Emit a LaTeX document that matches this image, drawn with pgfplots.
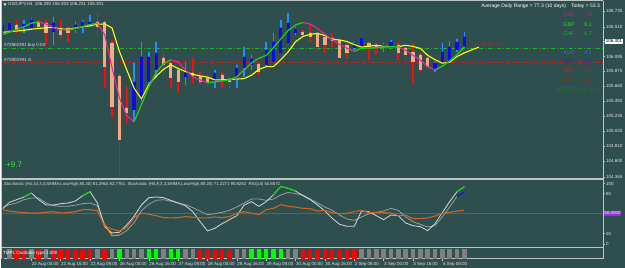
\documentclass[border=0pt]{standalone}
\usepackage{fontspec}
\setmainfont{Liberation Sans}
\usepackage{pgfplots}
\pgfplotsset{compat=1.18}
\usepackage{pgfplotstable}
\definecolor{bg}{RGB}{47,79,79}
\definecolor{bullw}{RGB}{30,144,255}
\definecolor{bullb}{RGB}{12,12,235}
\definecolor{bearw}{RGB}{255,10,10}
\definecolor{bearb}{RGB}{245,170,130}
\definecolor{maY}{RGB}{255,255,0}
\definecolor{maG}{RGB}{0,225,0}
\definecolor{maM}{RGB}{230,40,160}
\definecolor{txt}{RGB}{228,228,228}
\definecolor{frm}{RGB}{190,196,196}
\definecolor{stA}{RGB}{215,215,215}
\definecolor{stB}{RGB}{150,158,165}
\definecolor{rsi}{RGB}{205,100,35}
\definecolor{purp}{RGB}{150,45,225}
\definecolor{strR}{RGB}{255,0,0}
\definecolor{strL}{RGB}{0,255,0}
\definecolor{strG}{RGB}{128,128,128}
\definecolor{lvG}{RGB}{40,175,40}
\definecolor{lvR}{RGB}{205,30,30}
\newcommand\tf{\fontsize{4.5}{5}\selectfont}
\pgfplotsset{candle/.style={only marks, mark=*, mark size=0.1pt, mark options={draw=none, fill=none}}}

\pgfplotstableread{
i hi lo bt bb
0 106.579 106.351 106.536 106.365
1 106.579 106.422 106.564 106.465
3 106.607 106.422 106.550 106.493
4 106.635 106.465 106.607 106.493
7 106.650 106.251 106.564 106.436
10 106.579 106.422 106.536 106.465
11 106.607 106.422 106.579 106.493
12 106.678 106.507 106.579 106.536
18 105.995 105.156 105.725 105.327
19 106.294 105.455 106.081 105.469
20 106.152 105.711 106.081 105.725
21 106.294 105.782 106.138 105.896
25 106.010 105.682 105.853 105.796
29 105.896 105.640 105.853 105.725
32 105.967 105.640 105.924 105.754
33 106.223 105.796 106.081 105.924
34 106.109 105.896 106.052 105.967
36 106.294 105.938 106.180 105.967
37 106.422 106.010 106.294 106.010
38 106.607 106.138 106.493 106.138
39 106.707 106.280 106.564 106.280
40 106.507 106.394 106.479 106.422
48 106.294 106.180 106.280 106.209
49 106.365 106.223 106.351 106.223
52 106.280 106.152 106.251 106.223
53 106.322 106.223 106.294 106.237
59 106.010 105.867 105.995 105.896
60 106.280 106.010 106.152 106.010
61 106.294 106.010 106.223 106.010
62 106.337 106.152 106.294 106.180
63 106.436 106.223 106.365 106.223
}\bull

\pgfplotstableread{
i hi lo bt bb
2 106.607 106.422 106.536 106.465
5 106.607 106.465 106.579 106.507
6 106.607 106.251 106.564 106.422
8 106.607 106.351 106.493 106.394
9 106.507 106.294 106.493 106.422
13 106.721 106.365 106.579 106.507
14 106.593 105.640 106.579 105.938
15 106.322 105.227 106.280 105.369
16 105.839 104.388 105.810 104.900
17 105.654 105.142 105.355 105.284
22 106.152 105.796 106.066 105.967
23 106.010 105.640 105.995 105.782
24 105.938 105.569 105.896 105.725
26 106.066 105.711 105.853 105.810
27 105.867 105.697 105.810 105.725
28 105.825 105.682 105.782 105.711
30 105.867 105.640 105.825 105.754
31 105.782 105.640 105.768 105.725
35 105.995 105.825 105.981 105.867
41 106.465 106.365 106.436 106.394
42 106.564 106.294 106.422 106.365
43 106.422 106.152 106.422 106.223
44 106.365 106.138 106.365 106.251
45 106.422 106.223 106.351 106.308
46 106.351 106.066 106.322 106.066
47 106.251 106.066 106.251 106.138
50 106.280 106.038 106.280 106.223
51 106.280 106.109 106.251 106.223
54 106.294 106.038 106.251 106.138
55 106.251 106.010 106.209 106.109
56 106.280 105.711 106.152 106.010
57 106.138 105.867 106.109 105.896
58 106.081 105.896 106.066 105.938
}\bear

\pgfplotstableread{
i ma
0 106.432
1 106.439
2 106.449
3 106.460
4 106.475
5 106.486
6 106.496
7 106.499
8 106.479
9 106.473
10 106.493
11 106.507
12 106.524
13 106.546
14 106.549
15 106.493
16 106.159
17 105.896
18 105.635
19 105.483
20 105.685
21 105.806
22 105.903
23 105.967
24 105.916
25 105.873
26 105.832
27 105.810
28 105.793
29 105.753
30 105.753
31 105.759
32 105.765
33 105.771
34 105.820
35 105.901
36 105.941
37 105.943
38 106.042
39 106.153
40 106.297
41 106.372
42 106.401
43 106.416
44 106.385
45 106.332
46 106.322
47 106.300
48 106.257
49 106.220
50 106.233
51 106.246
52 106.231
53 106.227
54 106.227
55 106.246
56 106.230
57 106.202
58 106.103
59 106.041
60 105.991
61 106.005
62 106.085
63 106.138
64 106.180
65 106.220
}\yel

\pgfplotstableread{
i fa gr
0 106.394 106.394
1 106.433 106.433
2 106.469 106.469
3 106.510 106.510
4 106.561 106.561
5 106.580 106.580
6 106.549 nan
7 106.500 nan
8 106.465 nan
9 106.465 106.465
10 106.483 106.483
11 106.513 106.513
12 106.542 106.542
13 106.560 106.560
14 106.394 nan
15 105.924 nan
16 105.497 nan
17 105.241 nan
18 105.156 105.156
19 105.398 105.398
20 105.654 105.654
21 105.860 105.860
22 105.981 105.981
23 106.038 106.038
24 106.010 nan
25 105.896 nan
26 105.796 nan
27 105.753 nan
28 105.711 105.711
29 105.725 105.725
30 105.739 105.739
31 105.753 105.753
32 105.796 105.796
33 105.896 105.896
34 105.995 105.995
35 106.062 106.062
36 106.102 106.102
37 106.214 106.214
38 106.337 106.337
39 106.458 106.458
40 106.536 106.536
41 106.571 106.571
42 106.550 nan
43 106.486 nan
44 106.404 nan
45 106.328 nan
46 106.258 nan
47 106.204 nan
48 106.159 106.159
49 106.204 106.204
50 106.206 106.206
51 106.214 106.214
52 106.221 106.221
53 106.226 106.226
54 106.227 106.227
55 106.173 nan
56 106.102 nan
57 106.038 nan
58 105.941 nan
59 105.896 105.896
60 105.946 105.946
61 106.024 106.024
62 106.109 106.109
63 106.226 106.226
}\fast

\pgfplotstableread{
i s1 s2 r g1 b2 o2
0 56 59 56 nan nan nan
1 67 63.5 53.8 nan nan nan
2 71 66 52.6 nan nan nan
3 75 71 51.5 75 nan nan
4 81 73.5 51 81 nan nan
5 71 73.5 51 nan nan nan
6 63 66 52 nan nan nan
7 63 62 53 nan nan nan
8 65 61 51 nan nan nan
9 66 61 51.5 nan nan nan
10 69 62.8 53 nan nan nan
11 77 65 56 77 nan nan
12 83 66 56 83 nan nan
13 66 62 54.5 nan nan nan
14 30 33.5 31 nan nan 33.5
15 21 17 26.8 nan nan 17
16 22 17.8 23.8 nan nan 17.8
17 33 24.5 29 nan nan nan
18 46 36.5 44 nan nan nan
19 63 54.5 50.8 nan nan nan
20 74 64 49.3 nan nan nan
21 75 70 47 nan nan nan
22 74 71 44 nan nan nan
23 70 68.8 43.6 nan nan nan
24 66 66 44 nan nan nan
25 62 63.5 45.5 nan nan nan
26 53 59 44.8 nan nan nan
27 38 53.8 43.6 nan nan nan
28 24 48.5 43.6 nan nan nan
29 28 50 45 nan nan nan
30 35 52 44 nan nan nan
31 41 55 45.5 nan nan nan
32 47 60 50.8 nan nan nan
33 63 66 53 nan nan nan
34 68 72 50.8 nan nan nan
35 61 72 48.5 nan nan nan
36 68 70 56 nan nan nan
37 78.5 72 58 78.5 nan nan
38 91 78 63.5 91 nan nan
39 88 82 61 88 nan nan
40 84 80 59.8 84 nan nan
41 77 78 58 nan nan nan
42 71 72 57.5 nan nan nan
43 63 66 53.8 nan nan nan
44 54 60 55 nan nan nan
45 43 55 51.5 nan nan nan
46 34 48 50 nan nan nan
47 31 42 50.3 nan nan nan
48 31 40 53 nan nan nan
49 54 45 55 nan nan nan
50 53 50 51.5 nan nan nan
51 47 52 52 nan nan nan
52 41 54 51.5 nan nan nan
53 48 58 51 nan nan nan
54 47 55 47 nan nan nan
55 36 45 47.8 nan nan nan
56 32 38 42.5 nan nan nan
57 30.5 34 42.5 nan nan nan
58 24.5 30 43.6 nan nan nan
59 35 32 46.3 nan nan nan
60 51.5 45 50.3 nan nan nan
61 68 60 52 nan nan nan
62 83 76 53.8 83 76 nan
63 90.5 82 55 90.5 82 nan
}\stoch

\begin{document}
\begin{tikzpicture}[x=1pt,y=1pt]
\fill[bg] (0,0) rectangle (625,268);

% ---------------- main price panel
\begin{axis}[
  at={(2pt,90pt)}, anchor=south west, scale only axis,
  width=601pt, height=176pt,
  xmin=0.136, xmax=81.9, ymin=104.359, ymax=106.863,
  axis x line=none, axis y line*=right,
  axis line style={frm, line width=0.8pt},
  ytick={104.365,104.600,104.810,105.025,105.235,105.450,105.660,105.875,106.085,106.510,106.735},
  yticklabels={104.365,104.600,104.810,105.025,105.235,105.450,105.660,105.875,106.085,106.510,106.735},
  extra y ticks={106.301}, extra y tick labels={106.301},
  extra y tick style={yticklabel style={fill=white, text=black, inner sep=0.6pt}},
  yticklabel style={font=\tf, text=txt, inner sep=1pt},
  tick style={frm, line width=0.5pt}, major tick length=2pt, tick align=outside,
  unbounded coords=jump, clip=true,
]
\addplot[lvG, line width=0.7pt, dash pattern=on 4pt off 2pt on 1pt off 2pt] coordinates {(0.136,106.204) (81.9,106.204)};
\addplot[lvR, line width=0.7pt, dash pattern=on 4pt off 2pt on 1pt off 2pt] coordinates {(0.136,106.005) (81.9,106.005)};
% wicks (from high down to low)
\addplot[color=bullw, candle, error bars/.cd, y dir=minus, y explicit, error mark=none,
  error bar style={color=bullw, line width=1.6pt}]
  table[x=i, y=hi, y error expr={\thisrow{hi}-\thisrow{lo}}] {\bull};
\addplot[color=bearw, candle, error bars/.cd, y dir=minus, y explicit, error mark=none,
  error bar style={color=bearw, line width=1.6pt}]
  table[x=i, y=hi, y error expr={\thisrow{hi}-\thisrow{lo}}] {\bear};
% bodies
\addplot[color=bullb, candle, error bars/.cd, y dir=minus, y explicit, error mark=none,
  error bar style={color=bullb, line width=3.2pt}]
  table[x=i, y expr={\thisrow{bt}+0.004}, y error expr={\thisrow{bt}-\thisrow{bb}+0.008}] {\bull};
\addplot[color=bearb, candle, error bars/.cd, y dir=minus, y explicit, error mark=none,
  error bar style={color=bearb, line width=3.2pt}]
  table[x=i, y expr={\thisrow{bt}+0.004}, y error expr={\thisrow{bt}-\thisrow{bb}+0.008}] {\bear};
% moving averages
\addplot[maY, line width=1.1pt, mark=none] table[x=i, y=ma] {\yel};
\addplot[maM, line width=1.1pt, mark=none] table[x=i, y=fa] {\fast};
\addplot[maG, line width=1.1pt, mark=none] table[x=i, y=gr] {\fast};
\end{axis}

% ---------------- stochastic / RSI panel
\begin{axis}[
  at={(2pt,20pt)}, anchor=south west, scale only axis,
  width=601pt, height=68pt,
  xmin=0.136, xmax=81.9, ymin=-1, ymax=101,
  axis lines=none, unbounded coords=jump, clip=true,
]
\addplot[purp, line width=1pt] coordinates {(0.136,50) (81.9,50)};
\addplot[stB, line width=0.8pt, mark=none] table[x=i, y=s2] {\stoch};
\addplot[stA, line width=0.8pt, mark=none] table[x=i, y=s1] {\stoch};
\addplot[rsi, line width=1.1pt, mark=none] table[x=i, y=r] {\stoch};
\addplot[maG, line width=1.1pt, mark=none] table[x=i, y=g1] {\stoch};
\addplot[blue, line width=1.1pt, mark=none] table[x=i, y=b2] {\stoch};
\addplot[orange, line width=1.1pt, mark=none] table[x=i, y=o2] {\stoch};
\end{axis}

% ---------------- oscillator strip
\begin{axis}[
  at={(2pt,9pt)}, anchor=south west, scale only axis,
  width=601pt, height=10pt,
  xmin=0.136, xmax=81.9, ymin=0, ymax=1,
  axis y line=none, axis x line*=bottom,
  axis line style={frm, line width=0.6pt},
  xtick={0,4,...,60},
  xticklabels={21 Aug 2019,22 Aug 00:00,22 Aug 16:00,23 Aug 08:00,26 Aug 00:00,26 Aug 16:00,27 Aug 08:00,28 Aug 00:00,28 Aug 16:00,29 Aug 08:00,30 Aug 00:00,30 Aug 16:00,2 Sep 08:00,3 Sep 00:00,3 Sep 16:00,4 Sep 08:00},
  xticklabel style={font=\tf, text=txt, anchor=north west, inner sep=0.8pt, xshift=-0.5pt},
  tick style={frm, line width=0.5pt}, major tick length=2.5pt, tick align=outside,
  clip=true,
]
\addplot[ycomb, strR, line width=4.5pt, mark=none] coordinates {
(0,1) (2,1) (3,1) (5,1) (7,1) (8,1) (9,1) (10,1) (11,1) (12,1) (14,1)
(27,1) (28,1) (29,1) (30,1) (31,1) (41,1) (42,1) (43,1) (44,1) (45,1) (46,1) (47,1) (48,1)};
\addplot[ycomb, strL, line width=4.5pt, mark=none] coordinates {
(16,1) (20,1) (21,1) (23,1) (24,1) (34,1) (35,1) (36,1) (37,1) (38,1)};
\addplot[ycomb, strG, line width=4.5pt, mark=none] coordinates {
(1,1) (4,1) (6,1) (13,1) (15,1) (17,1) (18,1) (19,1) (22,1) (25,1) (26,1) (32,1) (33,1) (39,1) (40,1)
(49,1) (50,1) (51,1) (52,1) (53,1) (54,1) (55,1) (56,1) (57,1) (58,1) (59,1) (60,1) (61,1) (62,1) (63,1)};
\end{axis}

% ---------------- frames
\draw[frm, line width=0.6pt] (0,267.3) -- (603,267.3);
\draw[frm, line width=0.6pt] (0.4,9) -- (0.4,267.3);
\draw[frm, line width=2pt] (0,89) -- (603,89);
\draw[frm, line width=0.6pt] (0,20) -- (603,20);
\draw[frm, line width=0.8pt] (603,9) -- (603,267.3);

% ---------------- texts main panel
\fill[txt] (2.5,264.5) -- (5.5,264.5) -- (4,262) -- cycle;
\node[anchor=west, text=txt, font=\tf, inner sep=0pt] at (7,263.3) {USDJPY,H4\ \ 106.290 106.353 106.231 106.301};
\node[anchor=east, text=white, font=\fontsize{5}{6}\selectfont, inner sep=0pt] at (600,261.3) {Average Daily Range = 77.3 (10 days)\quad Today = 53.3};
\node[anchor=west, text=txt, font=\tf, inner sep=0pt] at (3,223) {\#72902391 buy 0.03};
\node[anchor=west, text=txt, font=\tf, inner sep=0pt] at (3,208.3) {\#72902391 sl};
\node[anchor=west, text=lvR, font=\fontsize{6}{7}\selectfont, inner sep=0pt] at (475,223) {<--2:31:13};
\node[anchor=west, text={rgb,255:red,50;green,235;blue,50}, font=\fontsize{8}{9}\selectfont, inner sep=0pt] at (5,103) {+9.7};

\def\cur#1#2#3#4{\node[anchor=west, text=#3, font=\fontsize{5.5}{6}\selectfont, inner sep=0pt] at (563,#4) {#1};
  \node[anchor=west, text=#3, font=\fontsize{5.5}{6}\selectfont, inner sep=0pt] at (584,#4) {#2};}
\cur{CAD}{7.9}{{rgb,255:red,180;green,40;blue,110}}{253}
\cur{GBP}{6.1}{{rgb,255:red,50;green,205;blue,50}}{243}
\cur{CHF}{5.7}{{rgb,255:red,40;green,170;blue,40}}{234}
\cur{EUR}{4.9}{{rgb,255:red,40;green,60;blue,175}}{224.7}
\cur{AUD}{4.1}{{rgb,255:red,55;green,95;blue,225}}{215.3}
\cur{NZD}{3.4}{{rgb,255:red,30;green,50;blue,165}}{206.3}
\cur{USD}{2.0}{{rgb,255:red,210;green,30;blue,30}}{197.3}
\cur{JPY}{1.9}{{rgb,255:red,170;green,30;blue,30}}{188}
\node[anchor=east, text={rgb,255:red,30;green,125;blue,30}, font=\fontsize{5.5}{6}\selectfont, inner sep=0pt] at (600,178.7) {USDJPY:0.1 BUY};

% ---------------- texts stochastic panel
\node[anchor=west, text=txt, font=\fontsize{4.3}{5}\selectfont, inner sep=0pt] at (3,83) {Stochastic (H4,14,3,3,SMMA,Low/High,80,20) 81.2964 82.7761\ \ Stochastic (H4,8,3,3,SMMA,Low/High,80,20) 71.2271 90.8282\ \ RSI(14) 54.8572};
\foreach \v/\yy in {100/84, 80/74, 20/34, 0/23.3} {
  \draw[frm, line width=0.5pt] (603,\yy) -- (605,\yy);
  \node[anchor=west, text=txt, font=\tf, inner sep=0pt] at (606,\yy) {\v};
}
\node[anchor=west, fill=purp, text=white, font=\tf, inner sep=0.6pt] at (603.5,54.3) {50.0000};

% ---------------- strip label
\node[anchor=west, text=white, font=\tf, inner sep=0pt] at (2,14.5) {TMPL Oscillator type 1.000};
\end{tikzpicture}
\end{document}
